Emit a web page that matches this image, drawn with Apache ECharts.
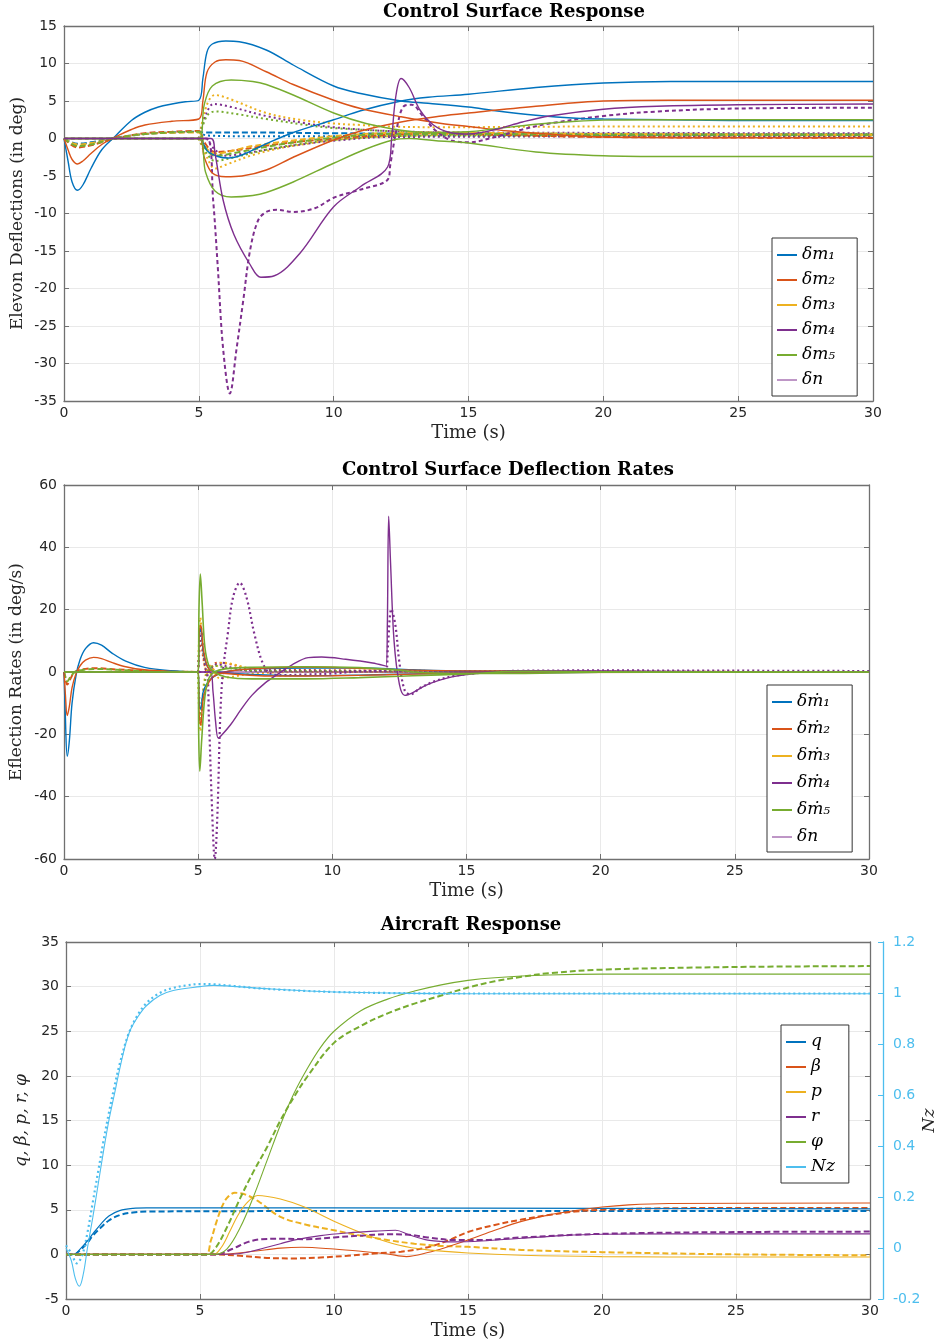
<!DOCTYPE html>
<html><head><meta charset="utf-8">
<script src="https://cdn.jsdelivr.net/npm/echarts@6/dist/echarts.min.js"></script>
<style>html,body{margin:0;padding:0;background:#fff}#c{width:940px;height:1344px}</style>
</head><body><div id="c"></div>
<script>
// ---------- text ----------
const titles = ['Control Surface Response', 'Control Surface Deflection Rates', 'Aircraft Response'];
const yNames = ['Elevon Deflections (in deg)', 'Eflection Rates (in deg/s)', 'q, β, p, r, φ'];
const xName = 'Time (s)';
const nzName = 'Nz';
const legend1 = ['δm₁', 'δm₂', 'δm₃', 'δm₄', 'δm₅', 'δn'];
const legend2 = ['δṁ₁', 'δṁ₂', 'δṁ₃', 'δṁ₄', 'δṁ₅', 'δn'];
const legend3 = ['q', 'β', 'p', 'r', 'φ', 'Nz'];

// ---------- chart 1: elevon deflections (deg) ----------
const m1A = [[0,0],[0.15,-3],[0.3,-5.8],[0.5,-6.9],[0.7,-6.2],[1,-4],[1.4,-1.5],[1.9,0.3],[2.5,2.4],[3,3.5],[3.5,4.2],[4,4.6],[4.5,4.9],[5,5.1],[5.15,8],[5.3,11.5],[5.5,12.6],[6,13],[6.5,12.9],[7.5,11.8],[8.5,9.8],[10,7.0],[11,6.0],[12.5,5.0],[13.5,4.7],[15,4.2],[16,3.7],[17.5,3.1],[19,2.7],[20,2.6],[22.5,2.5],[25,2.4],[30,2.4]];
const m1B = [[0,0],[5,0],[5.3,-1.6],[5.7,-2.4],[6.1,-2.6],[6.6,-2.2],[7.5,-0.7],[8.5,0.8],[10,2.5],[11,3.7],[12.5,5.0],[13.5,5.5],[15,5.9],[17.5,6.8],[20,7.4],[22.5,7.6],[30,7.6]];
const m2A = [[0,0],[0.15,-1.5],[0.3,-2.8],[0.5,-3.4],[0.7,-3.0],[1,-2],[1.4,-0.8],[1.9,0.2],[2.5,1.2],[3,1.8],[4,2.3],[5,2.6],[5.15,5],[5.3,8.8],[5.6,10.2],[6,10.5],[6.5,10.4],[7.5,8.9],[8.5,7.2],[10,5.1],[11,4.0],[12.5,2.9],[14,2.0],[15,1.6],[16.5,1.0],[17.5,0.7],[20,0.2],[25,0.1],[30,0.1]];
const m2B = [[0,0],[5,0],[5.2,-2.5],[5.5,-4.6],[6,-5.1],[6.6,-5.0],[7.5,-4.2],[8.5,-2.5],[10,-0.2],[11,1.0],[12.5,2.2],[14,3.0],[15,3.4],[17.5,4.3],[20,5.0],[22.5,5.1],[30,5.1]];
const m5A = [[0,0],[5,0],[5.2,4.5],[5.5,7.0],[6.2,7.8],[7,7.6],[7.5,7.2],[8.5,5.8],[10,3.4],[11.2,2.0],[12.5,1.1],[13.5,0.8],[15,0.9],[16,1.3],[17.5,1.9],[19,2.3],[20,2.45],[22.5,2.5],[30,2.5]];
const m5B = [[0,0],[5,0],[5.25,-4.5],[5.6,-7.0],[6.2,-7.8],[7,-7.6],[7.5,-7.2],[8.5,-5.8],[10,-3.3],[11.2,-1.4],[12.2,-0.2],[12.8,0],[13.8,-0.3],[15,-0.6],[17.5,-1.8],[20,-2.3],[22.5,-2.4],[30,-2.4]];
const m4 = [[0,0],[5.45,0],[5.6,-2],[5.9,-8.2],[6.3,-12.8],[6.9,-16.8],[7.3,-18.5],[7.8,-18.3],[8.75,-15.3],[10,-9.1],[11,-6.4],[12,-3.8],[12.15,0],[12.3,5.5],[12.5,8],[12.8,6.8],[13.2,3.8],[13.7,1.8],[14.3,0.8],[15,0.6],[16,1.2],[17,2.2],[18,3.0],[20,3.9],[22,4.3],[25,4.5],[30,4.6]];
const m4d = [[0,0],[5.3,0],[5.53,-8.2],[5.7,-17],[5.9,-28],[6.15,-34],[6.4,-28],[6.65,-21.5],[6.9,-14.9],[7.2,-10.9],[7.5,-9.8],[7.9,-9.5],[8.5,-9.8],[9.3,-9.3],[10,-7.9],[11,-6.8],[12,-5.5],[12.1,-3.5],[12.35,1.5],[12.6,4.3],[12.9,4.5],[13.3,3.0],[13.8,1.0],[14.4,-0.3],[15,-0.5],[16,0.2],[17,1.2],[18,2.0],[20,3.0],[22,3.6],[25,4.0],[30,4.1]];
const dn1 = [[0,0],[5.4,0]];
const m1dash = [[0,0],[0.5,-0.7],[1,-0.5],[1.9,0.1],[3,0.6],[4,0.8],[5,0.9],[5.2,0.8],[7,0.8],[10,0.7],[15,0.6],[20,0.5],[30,0.5]];
const m2dash = [[0,0],[0.5,-1.2],[1,-0.9],[1.9,0],[3,0.7],[4,0.9],[5,1.0],[5.2,-0.5],[5.6,-1.8],[6.5,-1.5],[8,-0.7],[10,0],[12,0.5],[14,0.7],[16,0.5],[20,0.2],[30,0.1]];
const m3dash = [[0,0],[0.5,-0.8],[1,-0.6],[1.9,0],[3,0.6],[5,0.8],[5.2,-1],[5.6,-2],[7,-1],[10,0.3],[13,0.8],[20,0.6],[30,0.5]];
const m5dash = [[0,0],[0.5,-1],[1,-0.8],[1.9,0],[3,0.6],[5,0.9],[5.2,-1],[5.6,-2.3],[6.5,-1.8],[8,-0.8],[10,0.1],[12,0.6],[15,0.6],[20,0.5],[30,0.5]];
const m1dot = [[5,0.9],[5.3,0.4],[7,0.3],[15,0.35],[30,0.35]];
const m3dotHi = [[5,0],[5.3,4.5],[5.6,5.8],[6.2,5.2],[7.5,3.4],[8.75,2.5],[10,2.0],[11,1.8],[12,1.6],[14,1.5],[20,1.6],[30,1.6]];
const m3dotLo = [[5,0],[5.3,-2.5],[5.6,-4],[6,-3.5],[7,-2.2],[8,-1.3],[9,-0.7],[10,-0.2],[12,0.3],[15,0.5],[30,0.5]];
const m4dotHi = [[5,0],[5.3,3.5],[5.55,4.6],[6.2,4.2],[7.5,3.0],[9,2.0],[10,1.5],[12,1.0],[15,0.8],[30,0.7]];
const m4dotLo = [[5.3,0],[5.6,-1.5],[6,-2.3],[6.5,-2.1],[7.5,-1.5],[9,-0.7],[10,-0.3],[12,0.2],[30,0.3]];
const m5dotHi = [[5,0],[5.3,3],[5.6,3.6],[6.5,3.2],[7.5,2.6],[9,1.8],[10,1.4],[12,1.0],[15,0.7],[30,0.6]];
const m5dotLo = [[5,0],[5.3,-2],[5.6,-3],[6.2,-2.6],[7.5,-1.5],[9,-0.6],[10,-0.2],[12,0.3],[15,0.4],[30,0.4]];

// ---------- chart 2: deflection rates (deg/s) ----------
const r1A = [[0,0],[0.05,-14],[0.12,-27],[0.2,-22],[0.3,-10],[0.45,-1],[0.6,4],[0.8,7.5],[1.1,9.4],[1.4,8.6],[1.8,6],[2.3,3.5],[3,1.5],[4,0.4],[5,0],[5.04,12],[5.1,14],[5.2,6],[5.4,1],[5.8,0],[7,-0.8],[9,-1.2],[11,-1],[13,-0.6],[15,-0.4],[20,-0.1],[30,0]];
const r1B = [[0,0],[5,0],[5.04,-10],[5.1,-12],[5.2,-6],[5.5,-2],[6,0],[7,1],[9,1.3],[11,1.3],[13,0.7],[15,0.3],[20,0.1],[30,0]];
const r2A = [[0,0],[0.05,-7],[0.12,-14],[0.2,-11],[0.3,-5],[0.45,-0.5],[0.6,2],[0.8,3.8],[1.1,4.7],[1.4,4.3],[1.8,3],[2.3,1.7],[3,0.7],[4,0.2],[5,0],[5.04,13],[5.1,15],[5.2,7],[5.4,1],[5.8,-0.3],[8,-1.3],[10,-1.2],[12,-0.9],[14,-0.5],[17,-0.2],[30,0]];
const r2B = [[0,0],[5,0],[5.04,-14],[5.1,-17],[5.2,-8],[5.5,-2],[6,0],[7,1],[9,1.6],[11,1.2],[13,0.6],[16,0.3],[20,0.1],[30,0]];
const r5A = [[0,0],[5,0],[5.03,20],[5.08,31.4],[5.15,22],[5.25,8],[5.4,2],[5.6,0],[6,-1.5],[7,-2.2],[9,-2.2],[11,-1.8],[13,-1.2],[15,-0.6],[17,0.2],[22,0],[30,0]];
const r5B = [[0,0],[5,0],[5.02,-20],[5.06,-31.8],[5.13,-22],[5.25,-8],[5.4,-2],[5.6,0],[6,1],[7,1.5],[9,1.7],[11,1.4],[12.5,0.6],[13,0],[14,-0.4],[16,-0.5],[20,-0.1],[30,0]];
const r4 = [[0,0],[5.45,0],[5.55,-6],[5.65,-16],[5.75,-21.2],[5.9,-20],[6.2,-17],[6.6,-12],[7,-7.5],[7.5,-3.5],[8,-0.5],[8.5,2.3],[9.1,4.6],[9.6,4.8],[10.5,4.1],[11.5,2.9],[12,1.9],[12.05,15],[12.1,50],[12.17,35],[12.3,10],[12.5,-4],[12.7,-7.5],[13,-6.6],[13.5,-4.2],[14,-2.6],[14.5,-1.5],[15,-0.8],[16,0],[17,0.4],[20,0.3],[25,0.1],[30,0]];
const r4dot = [[0,0],[5.3,0],[5.4,-15],[5.5,-40],[5.62,-60],[5.72,-45],[5.82,-15],[5.92,0],[6.1,12],[6.3,24],[6.55,28.6],[6.8,24],[7.1,12],[7.4,3],[7.7,-0.5],[8.2,-1],[9,-0.8],[10,-0.5],[11,0.2],[12,0.5],[12.07,8],[12.2,20.2],[12.35,15],[12.5,3],[12.7,-6],[12.9,-7.2],[13.3,-5],[13.8,-3],[14.5,-1.3],[15.5,-0.3],[17,0.4],[20,0.5],[30,0.3]];
const dn2 = [[0,0],[30,0]];
const r3dotHi = [[5,0],[5.03,10],[5.08,17.5],[5.15,10],[5.25,2],[5.4,-1],[5.6,1],[5.9,3],[6.3,2.5],[7,1],[8,0.3],[30,0]];
const r3dotLo = [[5,0],[5.03,-12],[5.08,-19],[5.15,-10],[5.25,-2],[5.45,2],[5.8,-2],[6.3,-1.5],[7,-0.5],[9,0],[30,0]];
const r4dotSm = [[5,0],[5.04,8],[5.1,13.4],[5.2,6],[5.35,0],[5.7,2.5],[6.2,1.5],[7,0.5],[30,0]];
const r5dot = [[5,0],[5.04,-8],[5.1,-15],[5.2,-6],[5.35,0],[5.6,2],[6.2,1.2],[7,0.3],[30,0]];
const r2dot = [[5,0],[5.04,6],[5.1,10],[5.2,4],[5.35,0],[5.7,3],[6.2,2.5],[7,0.8],[30,0]];
const r2dash = [[0,0],[0.05,-2],[0.12,-4],[0.25,-2],[0.4,0],[0.8,1],[1.2,1.2],[2,0.8],[3,0.4],[5,0]];
const r5dash = [[0,0],[0.05,-1.5],[0.12,-3],[0.25,-1.5],[0.4,0],[0.8,0.8],[1.2,1.0],[2,0.7],[3,0.3],[5,0]];

// ---------- chart 3: aircraft response ----------
const qS = [[0,0],[0.3,0],[0.5,0.5],[0.8,1.5],[1,2.3],[1.3,3.4],[1.6,4.3],[2,4.9],[2.5,5.15],[3,5.2],[10,5.2],[20,5.15],[30,5.1]];
const qD = [[0,0],[0.3,0],[0.5,0.4],[0.8,1.3],[1,2.1],[1.3,3.0],[1.6,3.8],[2,4.4],[2.5,4.7],[3,4.8],[10,4.85],[30,4.85]];
const bS = [[0,0],[5.3,0],[6,0.05],[7,0.35],[8,0.7],[8.8,0.8],[10,0.6],[11,0.35],[12,0.05],[12.7,-0.25],[13.5,0.2],[14.3,0.9],[15,1.6],[16,2.7],[17,3.7],[18,4.4],[19,4.9],[20,5.3],[21,5.55],[22.5,5.7],[30,5.75]];
const bD = [[0,0],[5.5,0],[6.5,-0.15],[7.5,-0.4],[8.5,-0.45],[9.5,-0.35],[10.5,-0.15],[11.5,0.1],[12.5,0.3],[13.5,0.8],[14.3,1.6],[15,2.5],[16,3.3],[17,3.9],[18,4.4],[19,4.8],[20,5.0],[22,5.15],[25,5.2],[30,5.2]];
const pS = [[0,0],[5.5,0],[5.8,0.8],[6.1,2.5],[6.4,4.3],[6.7,5.6],[7.15,6.6],[8,6.2],[8.9,5.3],[10,3.7],[11.2,2.2],[12.4,1.05],[13.5,0.5],[15,0.15],[17,-0.1],[20,-0.25],[25,-0.3],[30,-0.3]];
const pD = [[0,0],[5.2,0],[5.4,1.5],[5.6,3.5],[5.8,5.2],[6.0,6.3],[6.3,6.9],[6.7,6.7],[7.2,5.9],[8,4.2],[9,3.3],[10,2.7],[11,2.1],[12,1.6],[13,1.2],[14,0.95],[15,0.85],[17,0.5],[20,0.25],[25,0.0],[30,-0.1]];
const rS = [[0,0],[5.5,0],[6.5,0.1],[7,0.4],[7.5,0.8],[8,1.2],[8.5,1.6],[9.5,2.1],[10.5,2.4],[11.5,2.6],[12.3,2.7],[12.8,2.2],[13.5,1.6],[14.5,1.4],[15.5,1.5],[17,1.8],[18.5,2.1],[20,2.25],[25,2.3],[30,2.3]];
const rD = [[0,0],[5.6,0],[6.2,0.6],[6.8,1.4],[7.3,1.7],[8,1.75],[9,1.7],[10,1.9],[11,2.1],[12,2.25],[12.8,2.2],[13.5,1.9],[14.5,1.6],[15.5,1.6],[17,1.9],[20,2.3],[25,2.5],[30,2.55]];
const phiS = [[0,0],[5.5,0],[6,0.6],[6.5,3],[7,6.5],[7.5,10.5],[8,14.5],[8.5,18],[9,20.8],[9.5,23.2],[10,25],[11,27.3],[12,28.6],[13,29.5],[14,30.2],[15,30.7],[16,31],[18,31.3],[20,31.4],[30,31.4]];
const phiD = [[0,0],[5.3,0],[5.6,0.8],[6,3],[6.5,6.3],[7,9.3],[7.5,12.0],[8,15.0],[8.5,17.6],[9,19.9],[10,23.7],[11,25.6],[12,27],[13,28.1],[14,29],[15,29.9],[16,30.6],[17,31.1],[18,31.5],[20,31.9],[25,32.2],[30,32.3]];
const nzS = [[0,0],[0.2,-0.05],[0.35,-0.12],[0.5,-0.15],[0.65,-0.1],[0.8,0],[1,0.12],[1.2,0.25],[1.4,0.38],[1.6,0.5],[1.8,0.6],[2,0.7],[2.2,0.79],[2.4,0.855],[2.7,0.91],[3,0.95],[3.5,0.99],[4,1.01],[5,1.025],[5.5,1.03],[6,1.028],[7,1.02],[8,1.014],[9,1.008],[10,1.004],[12,1.0],[15,0.997],[30,0.997]];
const nzD = [[0,0.01],[0.2,-0.02],[0.4,-0.06],[0.6,-0.03],[0.8,0.06],[1,0.18],[1.2,0.3],[1.4,0.42],[1.6,0.53],[1.8,0.63],[2,0.72],[2.3,0.83],[2.6,0.9],[3,0.96],[3.5,1.0],[4,1.02],[4.5,1.03],[5,1.035],[5.5,1.034],[6,1.03],[7,1.02],[8,1.013],[9,1.008],[10,1.004],[12,1.0],[15,0.998],[30,0.998]];

// ---------- styling ----------
const COL = {blue:'#0072BD', orange:'#D95319', yellow:'#EDB120', purple:'#7E2F8E', green:'#77AC30', cyan:'#4DBEEE'};
const AX = '#707070', GRIDC = '#e9e9e9', TXT = '#262626';
const SERIF = 'DejaVu Serif', SANS = 'DejaVu Sans';
const DASH = [6, 3], DOT = [2, 3];

function ln(name, data, color, xi, yi, type, width, z) {
  return {name, type:'line', data, xAxisIndex:xi, yAxisIndex:yi, symbol:'none', showSymbol:false,
    smooth:0.35, animation:false, z: z || 2,
    lineStyle:{color, width, type: type || 'solid'}, itemStyle:{color}, emphasis:{disabled:true}};
}

function xAxes(gi) {
  return [
    {gridIndex:gi, type:'value', min:0, max:30, interval:5, position:'bottom',
     axisLine:{show:true, onZero:false, lineStyle:{color:AX, width:1.3}},
     axisTick:{show:true, inside:true, length:5, lineStyle:{color:AX}},
     axisLabel:{show:true, color:TXT, fontFamily:SANS, fontSize:14, margin:5},
     splitLine:{show:true, lineStyle:{color:GRIDC, width:1}},
     name:xName, nameLocation:'middle', nameGap:23,
     nameTextStyle:{fontFamily:SERIF, fontSize:18, color:TXT}},
    {gridIndex:gi, type:'value', min:0, max:30, interval:5, position:'top',
     axisLine:{show:true, onZero:false, lineStyle:{color:AX, width:1.3}},
     axisTick:{show:true, inside:true, length:5, lineStyle:{color:AX}},
     axisLabel:{show:false}, splitLine:{show:false}}
  ];
}
function yAxesPair(gi, min, max, interval, name, nameGap, nameStyle) {
  return [
    {gridIndex:gi, type:'value', min, max, interval, position:'left',
     axisLine:{show:true, onZero:false, lineStyle:{color:AX, width:1.3}},
     axisTick:{show:true, inside:true, length:5, lineStyle:{color:AX}},
     axisLabel:{color:TXT, fontFamily:SANS, fontSize:14, margin:7},
     splitLine:{show:true, lineStyle:{color:GRIDC, width:1}},
     name, nameLocation:'middle', nameGap, nameRotate:90, nameMoveOverlap:false,
     nameTextStyle:Object.assign({fontFamily:SERIF, fontSize:17, color:TXT}, nameStyle || {})},
    {gridIndex:gi, type:'value', min, max, interval, position:'right',
     axisLine:{show:true, onZero:false, lineStyle:{color:AX, width:1.3}},
     axisTick:{show:true, inside:true, length:5, lineStyle:{color:AX}},
     axisLabel:{show:false}, splitLine:{show:false}}
  ];
}

function legendBox(names, left, top, pad, lineH, gap, widths) {
  return {show:true, orient:'vertical', left, top, padding:pad, itemGap:gap,
    itemWidth:20, itemHeight:12, backgroundColor:'#fff', borderColor:'#333', borderWidth:1,
    selectedMode:false,
    itemStyle:{color:'rgba(0,0,0,0)', borderColor:'rgba(0,0,0,0)', borderWidth:0, opacity:0},
    textStyle:{fontFamily:SERIF, fontStyle:'italic', fontSize:17, color:'#000', lineHeight:lineH},
    data: names.map((n, i) => ({name:n, lineStyle:{type:'solid', width:widths[i]},
      itemStyle:{opacity:0}}))};
}

const series = [
  // chart 1 dotted / dashed
  ln('m1dot', m1dot, COL.blue, 0, 0, DOT, 2),
  ln('m3dotHi', m3dotHi, COL.yellow, 0, 0, DOT, 2),
  ln('m3dotLo', m3dotLo, COL.yellow, 0, 0, DOT, 2),
  ln('m4dotHi', m4dotHi, COL.purple, 0, 0, DOT, 2),
  ln('m4dotLo', m4dotLo, COL.purple, 0, 0, DOT, 2),
  ln('m5dotHi', m5dotHi, COL.green, 0, 0, DOT, 2),
  ln('m5dotLo', m5dotLo, COL.green, 0, 0, DOT, 2),
  ln('m1dash', m1dash, COL.blue, 0, 0, DASH, 2),
  ln('m2dash', m2dash, COL.orange, 0, 0, DASH, 2),
  ln('δm₃', m3dash, COL.yellow, 0, 0, DASH, 2),
  ln('m5dash', m5dash, COL.green, 0, 0, DASH, 2),
  ln('m4d', m4d, COL.purple, 0, 0, [4, 3], 2),
  // chart 1 solid
  ln('δm₁', m1A, COL.blue, 0, 0, 'solid', 1.4, 3),
  ln('m1B', m1B, COL.blue, 0, 0, 'solid', 1.4, 3),
  ln('δm₂', m2A, COL.orange, 0, 0, 'solid', 1.4, 3),
  ln('m2B', m2B, COL.orange, 0, 0, 'solid', 1.4, 3),
  ln('δm₅', m5A, COL.green, 0, 0, 'solid', 1.4, 3),
  ln('m5B', m5B, COL.green, 0, 0, 'solid', 1.4, 3),
  ln('δm₄', m4, COL.purple, 0, 0, 'solid', 1.4, 3),
  ln('δn', dn1, COL.purple, 0, 0, 'solid', 1, 3),

  // chart 2
  ln('r2dash', r2dash, COL.orange, 2, 2, DASH, 2),
  ln('r5dash', r5dash, COL.green, 2, 2, DASH, 2),
  ln('r2dot', r2dot, COL.orange, 2, 2, DOT, 2),
  ln('δṁ₃', r3dotHi, COL.yellow, 2, 2, DOT, 2),
  ln('r3dotLo', r3dotLo, COL.yellow, 2, 2, DOT, 2),
  ln('r4dotSm', r4dotSm, COL.purple, 2, 2, DOT, 2),
  ln('r5dot', r5dot, COL.green, 2, 2, DOT, 2),
  ln('r4dot', r4dot, COL.purple, 2, 2, DOT, 2.2),
  ln('δṁ₁', r1A, COL.blue, 2, 2, 'solid', 1.4, 3),
  ln('r1B', r1B, COL.blue, 2, 2, 'solid', 1.4, 3),
  ln('δṁ₂', r2A, COL.orange, 2, 2, 'solid', 1.4, 3),
  ln('r2B', r2B, COL.orange, 2, 2, 'solid', 1.4, 3),
  ln('δṁ₄', r4, COL.purple, 2, 2, 'solid', 1.4, 3),
  ln('δn', dn2, COL.purple, 2, 2, 'solid', 1, 3),
  ln('δṁ₅', r5A, COL.green, 2, 2, 'solid', 1.6, 4),
  ln('r5B', r5B, COL.green, 2, 2, 'solid', 1.6, 4),

  // chart 3
  ln('q2', qD, COL.blue, 4, 4, DASH, 2),
  ln('β2', bD, COL.orange, 4, 4, DASH, 2),
  ln('p2', pD, COL.yellow, 4, 4, DASH, 2),
  ln('r2', rD, COL.purple, 4, 4, DASH, 2),
  ln('φ2', phiD, COL.green, 4, 4, DASH, 2),
  ln('Nz2', nzD, COL.cyan, 4, 6, DOT, 2.2),
  ln('q', qS, COL.blue, 4, 4, 'solid', 1.2, 3),
  ln('β', bS, COL.orange, 4, 4, 'solid', 1.1, 3),
  ln('p', pS, COL.yellow, 4, 4, 'solid', 1.1, 3),
  ln('r', rS, COL.purple, 4, 4, 'solid', 1.1, 3),
  ln('φ', phiS, COL.green, 4, 4, 'solid', 1.1, 3),
  ln('Nz', nzS, COL.cyan, 4, 6, 'solid', 1.1, 3)
];

const titleStyle = {fontFamily:SERIF, fontWeight:'bold', fontSize:18, color:'#000'};
const option = {
  backgroundColor:'#fff',
  animation:false,
  title:[
    {text:titles[0], left:514, top:3, textAlign:'center', padding:0, textStyle:titleStyle},
    {text:titles[1], left:508, top:461, textAlign:'center', padding:0, textStyle:titleStyle},
    {text:titles[2], left:471, top:916, textAlign:'center', padding:0, textStyle:titleStyle}
  ],
  grid:[
    {left:64, top:26, width:809, height:375, show:false, outerBoundsMode:'none', containLabel:false},
    {left:64, top:485, width:805, height:374, show:false, outerBoundsMode:'none', containLabel:false},
    {left:66, top:942, width:804, height:357, show:false, outerBoundsMode:'none', containLabel:false}
  ],
  xAxis:[...xAxes(0), ...xAxes(1), ...xAxes(2)],
  yAxis:[
    ...yAxesPair(0, -35, 15, 5, yNames[0], 38),
    ...yAxesPair(1, -60, 60, 20, yNames[1], 39),
    ...yAxesPair(2, -5, 35, 5, yNames[2], 36, {fontStyle:'italic'}),
    {gridIndex:2, type:'value', min:-0.2, max:1.2, interval:0.2, position:'right', offset:13,
     axisLine:{show:true, onZero:false, lineStyle:{color:COL.cyan, width:1.3}},
     axisTick:{show:true, inside:true, length:5, lineStyle:{color:COL.cyan}},
     axisLabel:{color:COL.cyan, fontFamily:SANS, fontSize:14, margin:10,
       formatter:v => String(Math.round(v * 10) / 10)},
     splitLine:{show:false},
     name:nzName, nameLocation:'middle', nameGap:38, nameRotate:90, nameMoveOverlap:false,
     nameTextStyle:{fontFamily:SERIF, fontStyle:'italic', fontSize:17, color:TXT}}
  ],
  legend:[
    legendBox(legend1, 772, 238, [7, 22, 6, 4], 20, 5, [2, 2, 2, 2, 2, 1]),
    legendBox(legend2, 767, 685, [6, 22, 4, 4], 22, 5, [2, 2, 2, 2, 2, 1]),
    legendBox(legend3, 781, 1025, [7, 14, 6, 4], 20, 5, [2, 2, 2, 2, 2, 2])
  ],
  series
};
const chart = echarts.init(document.getElementById('c'), null, {renderer:'canvas'});
chart.setOption(option);
</script></body></html>
